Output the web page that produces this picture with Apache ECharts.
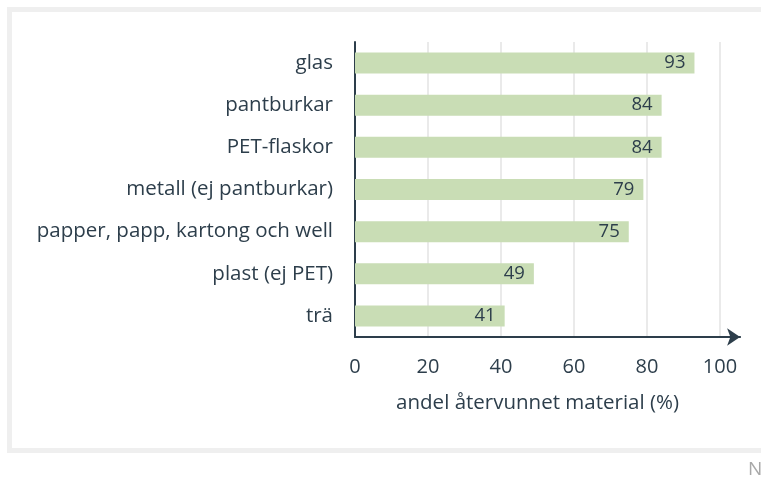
<!DOCTYPE html>
<html>
<head>
<meta charset="utf-8">
<script src="https://cdn.jsdelivr.net/npm/echarts@6/dist/echarts.min.js"></script>
<style>html,body{margin:0;padding:0;background:#fff;}#c{width:761px;height:481px;}</style>
</head>
<body>
<div id="c"></div>
<script>
var categories = ["glas", "pantburkar", "PET-flaskor", "metall (ej pantburkar)", "papper, papp, kartong och well", "plast (ej PET)", "trä"];
var values = [93, 84, 84, 79, 75, 49, 41];
var xTicks = [0, 20, 40, 60, 80, 100];
var axisTitle = "andel återvunnet material (%)";

var textColor = "#2d3e4b";
var font = "Open Sans";
var chart = echarts.init(document.getElementById("c"), null, {renderer: "canvas"});
chart.setOption({
  backgroundColor: "#fff",
  animation: false,
  textStyle: {fontFamily: font},
  grid: {left: 355, right: 20.9, top: 42, bottom: 144, containLabel: false},
  xAxis: {
    type: "value", min: 0, max: 105.5, interval: 20,
    axisLine: {show: true, lineStyle: {color: textColor, width: 2}, symbol: ["none", "arrow"], symbolSize: [13, 13]},
    axisTick: {show: false},
    axisLabel: {
      color: textColor, fontSize: 20, fontFamily: font, margin: 20,
      formatter: function (v) { return xTicks.indexOf(v) >= 0 ? String(v) : ""; }
    },
    splitLine: {show: true, showMinLine: false, showMaxLine: false, lineStyle: {color: "#e3e3e3", width: 1.5}},
    name: axisTitle, nameLocation: "middle", nameGap: 56,
    nameTextStyle: {color: textColor, fontSize: 20.5, fontFamily: font, padding: [0, 20, 0, 0]}
  },
  yAxis: {
    type: "category", data: categories, inverse: true,
    axisLine: {show: true, lineStyle: {color: textColor, width: 2}},
    axisTick: {show: false},
    axisLabel: {color: textColor, fontSize: 20.5, fontFamily: font, margin: 22}
  },
  series: [{
    type: "bar", data: values, barWidth: 21,
    itemStyle: {color: "#c9ddb5"},
    label: {show: true, position: "insideRight", distance: 9, color: textColor, fontSize: 18.5, fontFamily: font}
  }],
  graphic: [
    {type: "rect", left: 7, top: 7, shape: {width: 754, height: 5}, style: {fill: "#efefef"}, silent: true},
    {type: "rect", left: 7, top: 7, shape: {width: 5, height: 446}, style: {fill: "#efefef"}, silent: true},
    {type: "rect", left: 7, top: 448, shape: {width: 754, height: 5}, style: {fill: "#efefef"}, silent: true},
    {type: "text", left: 748, top: 460, style: {text: "N", fill: "#a8a8a8", fontSize: 19, fontFamily: font}, silent: true}
  ]
});
</script>
</body>
</html>
